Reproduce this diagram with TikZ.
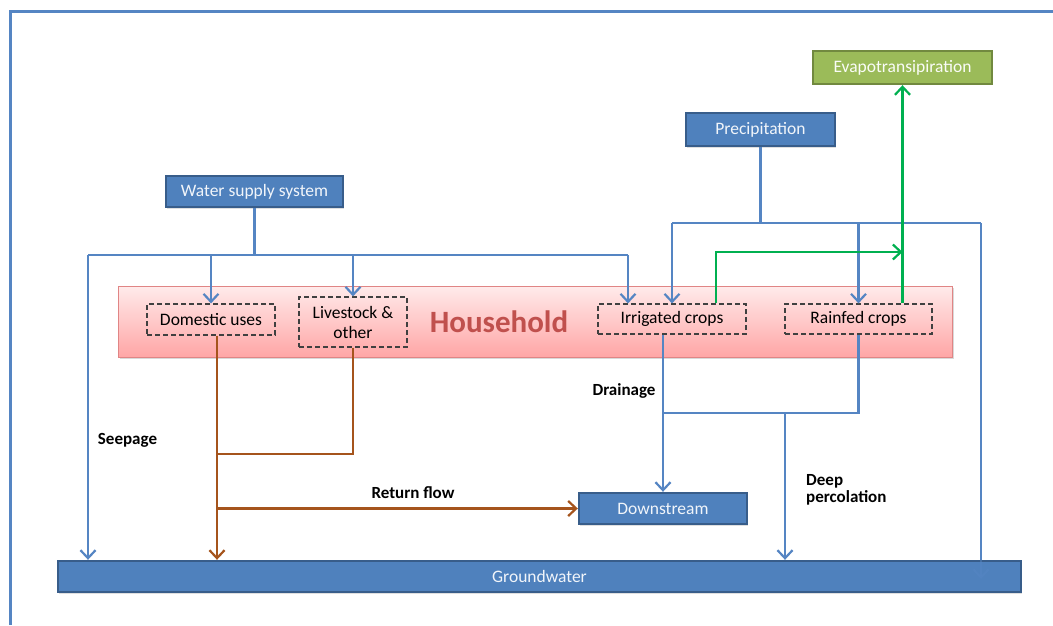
\documentclass[tikz,border=0pt]{standalone}
\usepackage{fontspec}
\setmainfont{Carlito}
\usetikzlibrary{arrows.meta,shadows}
\definecolor{bfill}{HTML}{4F81BD}
\definecolor{bdraw}{HTML}{385D8A}
\definecolor{gfill}{HTML}{9BBB59}
\definecolor{gdraw}{HTML}{71893F}
\definecolor{lineb}{HTML}{5585C3}
\definecolor{lineg}{HTML}{00B050}
\definecolor{linebr}{HTML}{A5541C}
\definecolor{hhred}{HTML}{C0504D}
\definecolor{hhdraw}{HTML}{E08585}
\tikzset{
  x=1pt, y=-1pt,
  bluebox/.style={draw=bdraw, line width=2.4pt, fill=bfill, text=white!92!bfill, font=\fontsize{17.5}{20}\selectfont, inner sep=0pt, drop shadow={shadow xshift=1pt, shadow yshift=-1.5pt, opacity=.25}},
  greenbox/.style={draw=gdraw, line width=2.4pt, fill=gfill, text=white!95!gfill, font=\fontsize{17.5}{20}\selectfont, inner sep=0pt},
  dbox/.style={draw=black!75, line width=1.2pt, dash pattern=on 5pt off 3pt, font=\fontsize{17.5}{20}\selectfont, align=center, inner sep=0pt},
  arr/.style={-{Straight Barb[length=8pt,width=15pt,line width=2.2pt]}},
  bl/.style={draw=lineb, line width=2.2pt},
  gr/.style={draw=lineg, line width=2.2pt},
  br/.style={draw=linebr, line width=2.2pt},
  lab/.style={font=\bfseries\fontsize{17}{17.5}\selectfont, inner sep=0pt, align=left},
}
\begin{document}
\begin{tikzpicture}
\useasboundingbox (0,0) rectangle (1053,625);
% frame
\draw[lineb, line width=3pt] (10,625) -- (10,11) -- (1053,11);

% household
\node[draw=hhdraw, line width=1pt, top color=red!8, bottom color=red!35, minimum width=834pt, minimum height=71pt, inner sep=0pt,
  drop shadow={shadow xshift=1.5pt, shadow yshift=-1.5pt, opacity=.3}] (hh) at (535,321.5) {};
\node[font=\bfseries\fontsize{31}{34}\selectfont, text=hhred] (hht) at (499,322) {Household};

\node[dbox, minimum width=128pt, minimum height=31pt] (dom) at (211,319.5) {Domestic uses};
\node[dbox, minimum width=108pt, minimum height=50pt] (live) at (353,322) {Livestock \&\\other};
\node[dbox, minimum width=148pt, minimum height=30pt, text height=12.5pt, text depth=4pt] (irr) at (672,319) {Irrigated crops};
\node[dbox, minimum width=147pt, minimum height=30pt, text height=12.5pt, text depth=4pt] (rain) at (858.5,319) {Rainfed crops};

% top boxes
\node[bluebox, minimum width=177pt, minimum height=31pt] (ws) at (254.5,191.5) {Water supply system};
\node[bluebox, minimum width=149pt, minimum height=33pt] (pr) at (760.5,129.5) {Precipitation};
\node[greenbox, minimum width=179pt, minimum height=33pt] (ev) at (902.5,67.5) {Evapotransipiration};
\node[bluebox, minimum width=168pt, minimum height=31pt] (ds) at (663,508.5) {Downstream};
\node[bluebox, minimum width=963pt, minimum height=31pt] (gw) at (539.5,576.5) {Groundwater};

% coordinates
\coordinate (sL) at (88,255);
\coordinate (sR) at (628,255);
\coordinate (pL) at (672,223);
\coordinate (pR) at (981,223);
\coordinate (pE) at (981,579);
\coordinate (g1) at (716,252);
\coordinate (dp) at (785,413);
\coordinate (b1) at (217,454);

% water supply
\draw[bl] (ws.south) -- (ws.south |- sL);
\draw[bl] (sL) -- (sR);
\draw[bl,arr] (sL) -- (sL |- gw.north);
\draw[bl,arr] (sR) -- (sR |- irr.north);
\draw[bl,arr] (dom.north |- sL) -- (dom.north);
\draw[bl,arr] (live.north |- sL) -- (live.north);

% precipitation
\draw[bl] (pr.south) -- (pr.south |- pL);
\draw[bl] (pL) -- (pR);
\draw[bl,arr] (pL) -- (pL |- irr.north);
\draw[bl,arr] (rain.north |- pL) -- (rain.north);
\draw[bl] (pR) -- (pR |- gw.north);
\draw[bl,arr,opacity=.5] (pR |- gw.north) -- (pE);

% evapotranspiration
\draw[gr,arr] (irr.north -| g1) -- (g1) -- (g1 -| ev.south);
\draw[gr,arr] (rain.north -| ev.south) -- (ev.south);

% drainage & deep percolation
\draw[bl,arr] (irr.south -| ds.north) -- (ds.north);
\draw[bl] (rain.south) |- (ds.north |- dp);
\draw[bl,arr] (dp) -- (dp |- gw.north);

% return flow
\draw[br,arr] (dom.south -| b1) -- (b1 |- gw.north);
\draw[br] (live.south) |- (b1);
\draw[br,arr] (b1 |- ds.west) -- (ds.west);

% labels
\node[lab] (lseep) at (127.5,440) {Seepage};
\node[lab] (ldrain) at (624,391) {Drainage};
\node[lab] (lret) at (413,493) {Return flow};
\node[lab, anchor=west] (ldeep) at (806,490) {Deep\\percolation};
\end{tikzpicture}
\end{document}
